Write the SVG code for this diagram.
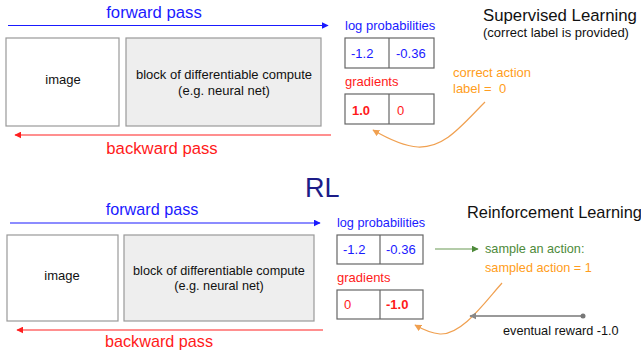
<svg xmlns="http://www.w3.org/2000/svg" width="641" height="350" viewBox="0 0 641 350">
<defs>
<marker id="ab" viewBox="0 0 10 10" refX="9" refY="5" markerWidth="7" markerHeight="7" markerUnits="userSpaceOnUse" orient="auto"><path d="M0,0 L10,5 L0,10 z" fill="#1a1aff"/></marker>
<marker id="ar" viewBox="0 0 10 10" refX="9" refY="5" markerWidth="7" markerHeight="7" markerUnits="userSpaceOnUse" orient="auto"><path d="M0,0 L10,5 L0,10 z" fill="#ff2020"/></marker>
<marker id="ao" viewBox="0 0 10 10" refX="9" refY="5" markerWidth="7" markerHeight="7" markerUnits="userSpaceOnUse" orient="auto"><path d="M0,0 L10,5 L0,10 z" fill="#f0a050"/></marker>
<marker id="ag" viewBox="0 0 10 10" refX="9" refY="5" markerWidth="7" markerHeight="7" markerUnits="userSpaceOnUse" orient="auto"><path d="M0,0 L10,5 L0,10 z" fill="#4e8a3a"/></marker>
<marker id="ay" viewBox="0 0 10 10" refX="9" refY="5" markerWidth="7" markerHeight="7" markerUnits="userSpaceOnUse" orient="auto"><path d="M0,0 L10,5 L0,10 z" fill="#888"/></marker>
</defs>
<style>
text{font-family:"Liberation Sans",Arial,sans-serif}
.box{fill:#fff;stroke:#999;stroke-width:1.2}
.gbox{fill:#eeeeee;stroke:#999;stroke-width:1.2}
.tbl{fill:#fff;stroke:#666;stroke-width:1.2}
.blue{fill:#1a1aff}
.red{fill:#ff1a1a}
.org{fill:#ff9d20}
.blk{fill:#111}
</style>
<rect width="641" height="350" fill="#fff"/>

<g id="connectors">
<line x1="8" y1="25.5" x2="328" y2="25.5" stroke="#1a1aff" stroke-width="1.2" marker-end="url(#ab)"/>
<line x1="331" y1="135" x2="15" y2="135" stroke="#ff2020" stroke-width="1.2" marker-end="url(#ar)"/>
<path d="M485,102 C462,125 445,148 418,147 C402,146 385,137 373,130" fill="none" stroke="#f0a050" stroke-width="1.2" marker-end="url(#ao)"/>
<line x1="10" y1="223" x2="320" y2="223" stroke="#1a1aff" stroke-width="1.2" marker-end="url(#ab)"/>
<line x1="323" y1="330" x2="17" y2="330" stroke="#ff2020" stroke-width="1.2" marker-end="url(#ar)"/>
<line x1="435" y1="249" x2="478" y2="249" stroke="#6a9a55" stroke-width="1.2" marker-end="url(#ag)"/>
<path d="M502,283 C485,302 462,335 440,334 C430,333 422,329 415,325" fill="none" stroke="#f0a050" stroke-width="1.2" marker-end="url(#ao)"/>
<line x1="583" y1="316" x2="470" y2="316" stroke="#999" stroke-width="2" marker-end="url(#ay)"/>
<circle cx="583" cy="316" r="2.5" fill="#777"/>
</g>

<g id="sl-labels">
<text x="154" y="18" class="blue" font-size="16.7" text-anchor="middle">forward pass</text>
<text x="162" y="154" class="red" font-size="16.7" text-anchor="middle">backward pass</text>
<text x="483" y="21" class="blk" font-size="16.8">Supervised Learning</text>
<text x="483" y="37" class="blk" font-size="13">(correct label is provided)</text>
</g>
<g id="sl-image"><rect x="6" y="38" width="113" height="88" class="box"/><text x="63" y="84" class="blk" font-size="13" text-anchor="middle">image</text></g>
<g id="sl-block"><rect x="126" y="38" width="195" height="88" class="gbox"/><text x="224" y="79" class="blk" font-size="13" text-anchor="middle">block of differentiable compute</text><text x="224" y="95" class="blk" font-size="13" text-anchor="middle">(e.g. neural net)</text></g>
<g id="sl-logprob">
<text x="345" y="30" class="blue" font-size="13">log probabilities</text>
<rect x="345" y="38" width="89" height="30" class="tbl"/><line x1="389" y1="38" x2="389" y2="68" stroke="#666" stroke-width="1.2"/>
<text x="351" y="58" class="blue" font-size="13">-1.2</text><text x="396" y="58" class="blue" font-size="13">-0.36</text>
</g>
<g id="sl-grad">
<text x="345" y="86" class="red" font-size="13">gradients</text>
<rect x="345" y="94" width="89" height="30" class="tbl"/><line x1="389" y1="94" x2="389" y2="124" stroke="#666" stroke-width="1.2"/>
<text x="352" y="115" class="red" font-size="13" font-weight="bold">1.0</text><text x="397" y="115" class="red" font-size="13">0</text>
</g>
<g id="sl-correct">
<text x="453" y="77" class="org" font-size="13">correct action</text>
<text x="453" y="93" class="org" font-size="13" xml:space="preserve">label =  0</text>
</g>

<g id="rl-title"><text x="305" y="197" font-size="27" fill="#1c1c88">RL</text></g>
<g id="rl-labels">
<text x="152" y="215" class="blue" font-size="16.2" text-anchor="middle">forward pass</text>
<text x="159" y="347" class="red" font-size="16.2" text-anchor="middle">backward pass</text>
<text x="467" y="218" class="blk" font-size="16.4">Reinforcement Learning</text>
</g>
<g id="rl-image"><rect x="7" y="235" width="111" height="86" class="box"/><text x="62" y="280" class="blk" font-size="13" text-anchor="middle">image</text></g>
<g id="rl-block"><rect x="124" y="235" width="190" height="86" class="gbox"/><text x="219" y="275" class="blk" font-size="12.7" text-anchor="middle">block of differentiable compute</text><text x="219" y="290" class="blk" font-size="12.7" text-anchor="middle">(e.g. neural net)</text></g>
<g id="rl-logprob">
<text x="337" y="227" class="blue" font-size="12.7">log probabilities</text>
<rect x="337" y="235" width="86" height="29" class="tbl"/><line x1="380" y1="235" x2="380" y2="264" stroke="#666" stroke-width="1.2"/>
<text x="343" y="254" class="blue" font-size="13">-1.2</text><text x="386" y="254" class="blue" font-size="13">-0.36</text>
</g>
<g id="rl-grad">
<text x="337" y="282" class="red" font-size="13">gradients</text>
<rect x="337" y="290" width="86" height="29" class="tbl"/><line x1="380" y1="290" x2="380" y2="319" stroke="#666" stroke-width="1.2"/>
<text x="344" y="309" class="red" font-size="13">0</text><text x="386" y="309" class="red" font-size="13" font-weight="bold">-1.0</text>
</g>
<g id="rl-sample">
<text x="485" y="253" fill="#4e8a3a" font-size="12.7">sample an action:</text>
<text x="485" y="272" class="org" font-size="12.7">sampled action = 1</text>
</g>
<g id="rl-reward"><text x="503" y="335" class="blk" font-size="12.7">eventual reward -1.0</text></g>
</svg>
